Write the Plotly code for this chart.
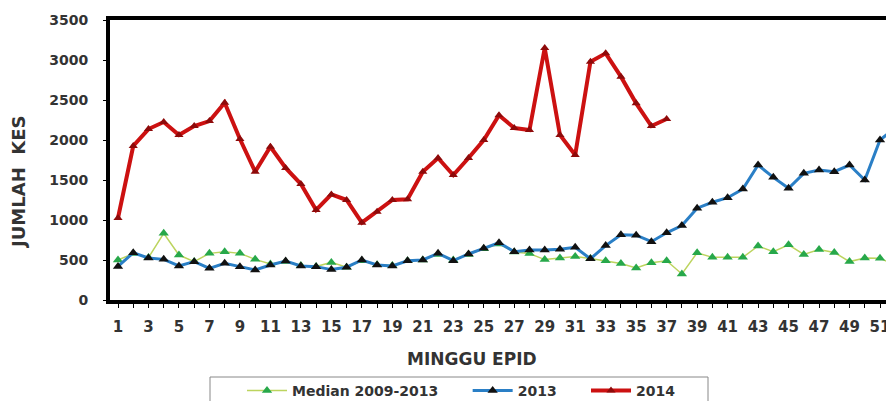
import plotly.graph_objects as go

weeks = list(range(1, 53))
weeks_2014 = list(range(1, 38))

median_2009_2013 = [500, 580, 530, 833, 562, 480, 583, 604, 583, 508,
                    450, 480, 430, 420, 470, 410, 490, 440, 430, 490,
                    500, 570, 500, 570, 640, 700, 600, 580, 505, 525,
                    545, 520, 490, 455, 400, 465, 490, 325, 590, 533,
                    533, 533, 675, 604, 690, 570, 630, 595, 480, 525,
                    521, 437]

cases_2013 = [420, 590, 525, 508, 425, 479, 396, 458, 417, 375,
              437, 487, 425, 417, 380, 410, 500, 437, 425, 491,
              500, 583, 491, 575, 646, 716, 604, 625, 625, 633,
              658, 515, 680, 815, 810, 729, 840, 930, 1148, 1222,
              1279, 1387, 1687, 1533, 1396, 1583, 1625, 1604, 1687, 1500,
              2000, 2150]

cases_2014 = [1025, 1925, 2137, 2225, 2062, 2175, 2237, 2466, 2012, 1604,
              1916, 1650, 1450, 1125, 1320, 1250, 966, 1104, 1250, 1260,
              1604, 1775, 1562, 1775, 2000, 2310, 2150, 2125, 3150, 2062,
              1812, 2979, 3083, 2792, 2458, 2175, 2262]

x_tick_labels = [str(w) for w in range(1, 52, 2)]
y_ticks = [0, 500, 1000, 1500, 2000, 2500, 3000, 3500]

FONT = "DejaVu Sans, Arial, sans-serif"
TXT = "#333333"
NB = "\u00a0"

# page has an 8px body margin; plot area is placed at page x 110..894, y 20..300
PL, PT, PW, PH = 110, 20, 784, 280


def px(x):
    return (x - PL) / PW


def py(y):
    return (PT + PH - y) / PH


fig = go.Figure()
fig.add_trace(go.Scatter(
    x=weeks, y=median_2009_2013, mode="lines+markers",
    name="Median 2009-2013" + NB * 5,
    line=dict(color="#bcd45e", width=1.5),
    marker=dict(symbol="triangle-up", size=9, color="#27a84a"),
))
fig.add_trace(go.Scatter(
    x=weeks, y=cases_2013, mode="lines+markers", name="2013" + NB * 5,
    line=dict(color="#2a7fc6", width=3),
    marker=dict(symbol="triangle-up", size=9, color="#111111"),
))
fig.add_trace(go.Scatter(
    x=weeks_2014, y=cases_2014, mode="lines+markers", name="2014",
    line=dict(color="#cc1111", width=4),
    marker=dict(symbol="triangle-up", size=8, color="#8e0a0a"),
))

fig.update_layout(
    width=886, height=393,
    margin=dict(l=102, r=0, t=12, b=101, autoexpand=False),
    paper_bgcolor="white", plot_bgcolor="white",
    font=dict(family=FONT, color=TXT),
    showlegend=True,
    legend=dict(
        orientation="h", x=px(242), xanchor="left", y=py(375), yanchor="top",
        borderwidth=0, bgcolor="rgba(0,0,0,0)",
        font=dict(size=14, family=FONT, color=TXT, weight="bold"),
        itemwidth=40, tracegroupgap=0,
    ),
    shapes=[
        dict(type="rect", xref="paper", yref="paper",
             x0=px(210), x1=px(708), y0=py(377), y1=py(420),
             line=dict(color="#888888", width=1), fillcolor="rgba(0,0,0,0)",
             layer="below"),
    ],
    xaxis=dict(
        range=[0.475, 0.475 + 784 / 15.24],
        tickmode="array", tickvals=list(range(1, 52, 2)), ticktext=x_tick_labels,
        showline=True, linecolor="black", linewidth=4, mirror=True,
        ticks="outside", ticklen=4, tickcolor="black", tickwidth=1,
        minor=dict(dtick=1, tick0=0, ticks="outside", ticklen=4, tickcolor="black"),
        ticklabelstandoff=6,
        showgrid=False, zeroline=False,
        tickfont=dict(size=15, family=FONT, color=TXT, weight="bold"),
    ),
    yaxis=dict(
        range=[0, 3500],
        tickmode="array", tickvals=y_ticks,
        showline=True, linecolor="black", linewidth=4, mirror=False,
        ticks="outside", ticklen=3, tickcolor="black",
        ticklabelstandoff=12,
        showgrid=False, zeroline=False,
        tickfont=dict(size=14, family=FONT, color=TXT, weight="bold"),
    ),
    annotations=[
        dict(text="JUMLAH  KES", xref="paper", yref="paper",
             x=px(19), y=py(183), textangle=-90,
             showarrow=False, xanchor="center", yanchor="middle",
             font=dict(size=18, family=FONT, color=TXT, weight="bold")),
        dict(text="MINGGU EPID", xref="paper", yref="paper",
             x=px(472), y=py(359),
             showarrow=False, xanchor="center", yanchor="middle",
             font=dict(size=17, family=FONT, color=TXT, weight="bold")),
    ],
)

fig.write_html("out.html")
